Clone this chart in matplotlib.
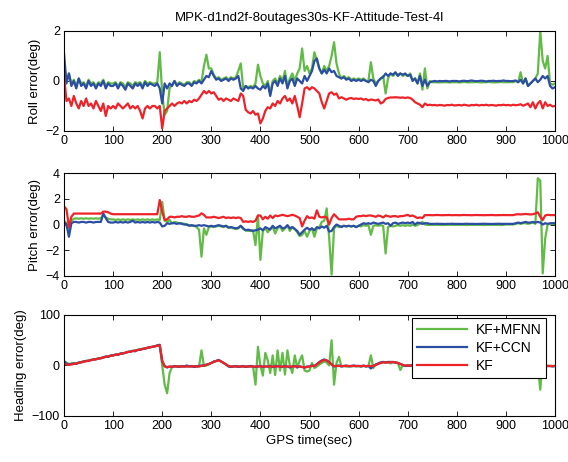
import numpy as np
import matplotlib
matplotlib.use("Agg")
import matplotlib.pyplot as plt

plt.rcParams['font.family'] = ['Liberation Sans', 'DejaVu Sans']

# time axis (sec), 5 s step
t = np.arange(0, 1001, 5)

# ---------------- Roll error (deg) ----------------
roll_kf = [0.2,-0.8,-0.7,-1.0,-0.6,-0.9,-1.1,-0.8,-1.0,-0.7,-1.0,-0.9,-1.1,-0.8,-1.0,-1.2,-0.9,-1.4,-1.0,-1.1,
           -1.0,-1.1,-0.9,-1.0,-1.1,-1.0,-0.9,-1.1,-1.0,-1.1,-1.0,-1.2,-1.5,-1.1,-1.0,-1.1,-1.0,-1.0,-1.1,-1.0,
           -1.9,-1.2,-1.1,-1.0,-0.9,-1.0,-0.9,-0.85,-0.9,-0.8,-0.9,-0.8,-0.85,-0.75,-0.8,-0.7,-0.55,-0.4,-0.5,-0.4,
           -0.5,-0.45,-0.6,-0.75,-0.7,-0.8,-0.7,-0.75,-0.8,-0.7,-0.75,-0.8,-0.5,-0.6,-1.15,-1.25,-1.3,-1.2,-1.35,-1.3,
           -1.7,-1.5,-1.2,-1.05,-1.1,-0.9,-1.0,-0.8,-0.9,-0.7,-0.6,-0.8,-0.7,-0.9,-0.6,-1.0,-1.45,-0.9,-0.3,-0.25,
           -0.35,-0.25,-0.3,-0.4,-0.5,-0.85,-1.1,-0.8,-0.5,-0.45,-0.55,-0.5,-0.7,-0.65,-0.7,-0.75,-0.7,-0.68,-0.72,-0.7,
           -0.72,-0.7,-0.75,-0.72,-0.78,-0.74,-0.76,-0.78,-0.74,-0.9,-0.85,-0.72,-0.68,-0.66,-0.66,-0.65,-0.66,-0.67,-0.66,-0.68,
           -0.66,-0.68,-0.75,-0.85,-0.9,-0.95,-1.05,-0.9,-0.97,-0.95,-0.97,-0.96,-0.98,-0.96,-0.97,-0.99,-0.96,-0.97,-0.95,-0.98,
           -0.97,-0.96,-0.98,-0.95,-0.97,-0.99,-0.96,-0.97,-0.95,-0.98,-0.96,-0.97,-0.95,-0.98,-0.96,-0.97,-0.99,-0.96,-0.97,-0.95,
           -0.97,-0.96,-0.98,-0.95,-0.97,-0.96,-0.93,-0.99,-0.95,-0.9,-1.05,-0.85,-1.1,-0.9,-0.8,-1.1,-0.85,-1.0,-0.95,-1.02,
           -1.0]
roll_ccn = [1.1,-0.1,0.3,-0.2,0.0,-0.3,0.1,-0.2,-0.1,-0.3,0.0,-0.2,-0.1,-0.3,-0.1,-0.2,0.0,-0.3,-0.1,-0.2,
            -0.2,-0.1,-0.3,-0.1,-0.2,-0.35,-0.1,-0.2,-0.3,-0.1,-0.2,-0.1,-0.3,-0.05,-0.2,-0.1,-0.15,-0.2,-0.1,-0.3,
            -0.9,-0.1,-0.3,-0.1,-0.2,0.0,-0.2,-0.1,-0.15,-0.2,-0.1,-0.1,-0.2,-0.05,-0.1,0.0,-0.1,0.05,0.2,0.15,
            0.4,0.2,0.05,0.1,0.0,0.05,0.1,0.0,0.1,0.05,0.1,0.2,-0.3,-0.4,-0.2,-0.3,-0.25,-0.3,-0.2,-0.3,
            -0.35,-0.2,-0.3,-0.1,-0.6,-0.1,0.0,-0.2,0.1,-0.1,0.2,-0.3,0.0,0.1,-0.2,0.1,0.0,-0.1,0.2,0.0,
            0.2,0.4,0.8,0.9,0.5,0.3,0.45,0.3,0.5,0.35,0.4,0.2,0.15,0.1,0.15,0.05,0.1,0.0,0.05,0.0,
            0.05,0.0,0.05,0.0,-0.05,0.05,0.0,-0.2,0.0,0.1,0.15,0.3,0.2,0.3,0.25,0.35,0.2,0.3,0.25,0.3,
            0.2,0.25,0.0,0.1,-0.1,0.2,-0.2,0.05,-0.2,-0.05,-0.02,0.0,-0.02,0.0,-0.01,0.0,0.0,-0.02,0.0,0.0,
            0.0,-0.02,0.0,0.01,-0.01,0.0,0.02,0.0,-0.01,0.0,0.01,0.0,-0.02,0.0,0.0,0.01,-0.01,0.0,0.0,0.02,
            0.0,0.0,-0.01,0.0,0.02,-0.05,0.05,-0.1,0.1,-0.2,-0.1,0.0,0.1,-0.05,0.05,0.2,0.1,0.2,-0.2,-0.3,
            -0.25]
roll_mfnn = [0.7,0.0,0.3,-0.1,0.05,-0.2,0.1,-0.1,-0.05,-0.2,0.05,-0.1,-0.05,-0.2,-0.05,-0.1,0.05,-0.2,-0.05,-0.1,
             -0.1,-0.05,-0.2,-0.05,-0.1,-0.25,-0.05,-0.1,-0.2,-0.05,-0.1,-0.05,-0.2,0.0,-0.1,-0.05,-0.1,-0.1,-0.05,1.15,
             -0.5,-1.35,-1.2,-0.3,-0.15,0.0,-0.15,-0.05,-0.1,-0.15,-0.05,-0.05,-0.15,0.0,-0.05,0.05,-0.05,0.6,1.05,0.5,
             0.5,0.25,0.1,0.15,0.05,0.1,0.15,0.05,0.15,0.1,0.15,0.4,0.7,-0.3,-0.2,-0.25,-0.2,-0.25,-0.1,0.65,
             0.2,-0.1,-0.2,0.0,-0.5,0.0,0.1,-0.1,0.2,0.0,0.4,-0.2,0.1,0.3,0.0,0.3,0.5,1.3,0.4,0.6,
             0.3,0.5,1.15,0.8,0.5,0.3,0.6,0.4,0.6,1.0,1.55,0.7,0.3,0.1,0.2,0.1,0.15,0.05,0.1,0.05,
             0.1,0.05,0.1,0.0,0.0,0.75,0.1,-0.1,0.0,0.1,0.2,-0.5,0.1,0.3,0.2,0.3,0.25,0.3,0.2,0.25,
             0.2,0.3,0.05,0.1,-0.1,0.3,-0.35,0.5,-0.3,0.0,-0.05,-0.05,-0.05,-0.06,-0.05,-0.05,-0.05,-0.06,-0.05,-0.05,
             -0.05,-0.06,-0.05,-0.04,-0.05,-0.06,-0.05,-0.05,-0.04,-0.05,-0.06,-0.05,-0.05,-0.04,-0.05,-0.06,-0.05,-0.05,-0.04,-0.05,
             -0.05,-0.05,-0.04,-0.05,0.0,-0.05,0.35,-0.1,0.1,-0.2,-0.1,0.0,0.1,0.3,2.0,0.8,0.5,1.0,-0.1,-0.15,
             -0.1]

# ---------------- Pitch error (deg) ----------------
pitch_kf = [1.4,1.2,-0.2,0.6,0.85,0.85,0.85,0.85,0.85,0.85,0.85,0.85,0.85,0.85,0.85,0.85,1.0,1.0,0.95,0.85,
            0.8,0.8,0.8,0.8,0.8,0.8,0.8,0.8,0.8,0.8,0.8,0.8,0.8,0.8,0.8,0.8,0.8,0.8,0.8,1.9,
            1.0,0.35,0.4,0.6,0.6,0.55,0.6,0.6,0.65,0.6,0.6,0.65,0.6,0.6,0.65,0.7,0.87,0.75,0.55,0.55,
            0.55,0.6,0.55,0.5,0.55,0.6,0.5,0.55,0.5,0.55,0.5,0.55,0.5,0.2,0.25,0.2,0.25,0.2,0.3,0.7,
            0.7,0.4,0.6,0.45,0.7,0.5,0.7,0.65,0.7,0.75,0.7,0.65,0.7,0.75,0.7,0.6,0.5,-0.15,0.3,0.65,
            0.5,0.55,0.45,1.1,0.6,0.55,0.6,0.55,0.0,0.5,0.8,0.6,0.4,0.4,0.4,0.4,0.45,0.4,0.4,0.6,
            0.65,0.65,0.7,0.65,0.7,0.7,0.65,0.6,0.7,0.65,0.55,0.7,0.65,0.6,0.65,0.65,0.6,0.65,0.65,0.7,
            0.75,0.65,0.7,0.6,0.5,0.55,0.5,0.73,0.73,0.73,0.72,0.73,0.74,0.73,0.72,0.73,0.73,0.74,0.72,0.73,
            0.73,0.72,0.73,0.74,0.73,0.73,0.72,0.73,0.74,0.73,0.73,0.72,0.73,0.73,0.74,0.73,0.72,0.73,0.73,0.74,
            0.73,0.73,0.73,0.73,0.78,0.8,0.78,0.8,0.82,0.8,0.78,0.8,0.85,0.95,0.6,0.35,0.7,0.75,0.73,0.73,
            0.73]
pitch_ccn = [0.2,0.0,-0.95,0.1,0.2,0.2,0.15,0.2,0.2,0.15,0.2,0.2,0.15,0.2,0.2,0.2,0.85,0.5,0.2,0.15,
             0.15,0.2,0.15,0.2,0.15,0.2,0.15,0.2,0.3,0.15,0.2,0.15,0.2,0.15,0.2,0.15,0.2,0.15,0.2,0.15,
             -0.15,-0.1,0.1,0.05,0.1,0.1,0.05,0.1,0.05,0.0,0.0,-0.1,-0.05,-0.1,-0.1,-0.05,-0.1,-0.05,-0.1,-0.15,
             -0.1,-0.15,-0.1,-0.05,-0.1,-0.15,-0.1,-0.25,-0.2,-0.25,-0.3,-0.25,-0.1,-0.3,-0.45,-0.4,-0.45,-0.5,-0.45,-0.4,
             -0.3,-0.45,-0.2,-0.3,-0.4,-0.1,-0.3,-0.2,-0.1,-0.3,-0.25,-0.05,-0.3,-0.2,-0.35,-0.5,-0.8,-0.6,-0.4,-0.25,
             -0.4,-0.3,-0.45,-0.2,-0.3,-0.15,-0.25,-0.1,-0.55,-0.5,-0.2,0.0,-0.1,-0.2,-0.1,-0.15,-0.1,-0.15,-0.1,-0.2,
             -0.1,0.0,0.1,0.05,0.1,0.05,0.15,0.1,0.05,0.1,0.15,0.05,0.1,-0.1,0.1,0.15,0.05,0.1,0.15,0.1,
             0.15,0.1,0.2,0.0,0.15,0.1,0.05,0.1,0.1,0.05,0.05,0.05,0.06,0.05,0.05,0.04,0.05,0.05,0.06,0.05,
             0.05,0.05,0.04,0.05,0.06,0.05,0.05,0.05,0.04,0.05,0.05,0.06,0.05,0.05,0.04,0.05,0.05,0.06,0.05,0.05,
             0.05,0.05,0.05,0.05,0.1,0.15,0.1,0.15,0.2,0.15,0.15,0.2,0.15,0.2,0.15,0.0,0.1,0.05,0.1,0.1,
             0.1]
pitch_mfnn = [0.3,0.1,-0.5,0.3,0.45,0.48,0.45,0.48,0.45,0.48,0.45,0.48,0.45,0.48,0.45,0.5,0.7,0.55,0.45,0.4,
              0.4,0.35,0.4,0.35,0.4,0.35,0.4,0.35,0.4,0.35,0.4,0.35,0.4,0.35,0.4,0.35,0.4,0.35,0.4,0.35,
              1.75,0.3,0.2,0.35,0.1,0.2,0.15,0.1,0.1,0.05,0.0,-0.05,-0.1,-0.1,-0.2,-0.4,-2.5,-0.3,-0.8,-0.2,
              -0.15,-0.2,-0.15,-0.1,-0.15,-0.2,-0.1,-0.2,-0.25,-0.3,-0.35,-0.3,-0.1,-0.35,-0.45,-0.5,-0.5,-0.45,-1.6,0.7,
              -2.75,-0.5,-0.3,-0.6,-0.3,-0.2,-0.7,-0.3,-0.15,-0.5,-0.3,-0.1,-0.5,-0.2,-0.35,-0.6,-0.9,-0.8,-0.5,-0.95,
              -0.5,-0.3,-0.95,-0.3,-0.2,0.2,0.3,1.25,-1.0,-3.9,-0.3,-0.1,-0.2,-0.15,-0.1,-0.15,-0.1,-0.15,-0.1,-0.2,
              -0.1,-0.15,-0.05,-0.1,-0.05,-0.8,-0.1,-0.05,-0.1,-0.05,-0.1,-2.25,-0.2,-0.1,-0.15,-0.1,-0.05,-0.1,-0.05,-0.1,
              -0.05,-0.1,0.0,-0.1,-0.05,0.1,0.2,0.0,-0.03,-0.03,-0.03,-0.02,-0.03,-0.03,-0.04,-0.03,-0.03,-0.02,-0.03,-0.03,
              -0.03,-0.03,-0.02,-0.03,-0.04,-0.03,-0.03,-0.03,-0.02,-0.03,-0.03,-0.04,-0.03,-0.03,-0.02,-0.03,-0.03,-0.03,-0.04,-0.03,
              0.0,0.0,0.0,0.0,0.05,0.1,0.05,0.1,0.1,0.05,0.1,0.15,0.05,3.6,3.4,-3.8,-1.1,0.0,0.05,0.05,
              0.05]

# ---------------- Heading error (deg) ----------------
head_kf = [4,2,1,2,3,4,5,6.5,7.5,8.5,9.5,10.5,11.5,12.5,13.5,14.5,16,17,18,19,
           20,21,22,23,24,25.5,26.5,27.5,28.5,29.5,30.5,31.5,32.5,34,35,36,37,38,39,40,
           10,-2,-3,-2.5,-2,-2,-2,-2,-2,-2,-2,-2,-2,-1.5,-2,-2,-1,0,1,3,
           5,7,9,10,8,5,2,-1,-2,-2,-2,-2,-2,-2,-2,-2,-2,-2,-2,-2,
           -2,-2,-2,-2,-2,-2,-2,-2,-2,-2,-2,-2,-2,-2,-2,-2,-2,-3,-4,-3,
           -2,-1,-1,2,6,9,11,10,6,2,-1,-1,-1,-1,-1,-1,-1,-1,-1,-1,
           -1,-1,-1,-1,-1,-1,-1,1,3,5,6,6,6,6.5,6.5,6,5,3,1,0,
           0,0,-1,-1,-1,-1,-1,-1,-1,-1,-1,-1,-1,-1,-1,-1,-1,-1,-1,-1,
           -1,-1,-1,-1,-1,-1,-1,-1,-1,-1,-1,-1,-1,-1,-1,-1,-1,-1,-1,-1,
           -1,-1,-1,-1,-1,-1,-1,-1,-1,-1,-1,-1,-1,-1,-1,-1,-1,-1,-1,-1,
           -1]
head_ccn = [8,4,2,3,4,3,6,6,8,9,9,11,12,12,14,14,16,18,17,20,
            20,22,21,24,24,25,27,27,29,28,31,31,33,33,35,36,37,38,40,41,
            8,-1,-4,-2,-3,-1,-2,-3,-1,-2,0,-2,-1,-3,-2,-1,0,0,2,3,
            5,8,9,11,8,5,2,-2,-3,-2,-1,-3,-2,-1,-3,-2,-1,-2,-3,-2,
            -1,-3,-2,-2,-1,-3,-2,-1,-2,-3,-1,-2,-4,-2,-1,-3,-2,-3,-4,-2,
            -2,0,-1,3,7,10,12,10,7,2,-2,-1,0,-2,-1,0,-2,-1,0,-1,
            -1,-2,0,-2,-1,-6,-1,2,4,6,7,6,7,7,7,6,5,3,1,-1,
            0,-1,1,0,-1,0,1,-1,0,0,-1,0,1,0,-1,0,0,1,-1,0,
            0,-1,0,1,0,-1,0,0,1,-1,0,0,-1,1,0,0,-1,0,1,0,
            -1,0,1,0,-1,0,0,-1,1,0,-1,0,1,-1,0,-2,0,-1,-1,-2,
            -1]
head_mfnn = [9,5,3,4,5,4,6,7,8,9,10,11,12,13,14,15,16,17,18,19,
             20,21,22,23,24,25,27,28,29,30,31,32,33,34,35,36,37,38,39,40,
             0,-38,-55,-15,-3,-2,-2,-1,-2,-2,-2,-1,-2,-2,-1,-2,30,-1,0,2,
             5,7,9,10,8,5,2,-1,-2,-2,-2,-2,-2,-2,-2,-2,-2,-2,-38,37,
             0,-20,25,10,-15,20,-19,30,-10,25,-18,30,0,-15,20,-5,10,20,-10,-12,
             -10,5,-5,-2,2,5,8,6,0,50,-38,5,17,-2,-1,-2,-1,-2,-1,-2,
             -1,-2,-1,-2,-1,20,-5,2,4,6,7,6,7,4,7,6,5,-9,1,-1,
             0,0,-1,-1,-1,-1,-1,-1,-1,-1,-1,-1,-1,-1,-1,-1,-1,-1,-1,-1,
             -1,-1,-1,-1,-1,-1,-1,-1,-1,-1,-1,-1,-1,-1,-1,-1,-1,-1,-1,-1,
             -1,-1,-1,-1,-1,-1,-1,-1,-1,-1,-1,-1,-1,-1,-48,14,-1,-1,-1,-1,
             -1]

labels = ['KF+MFNN', 'KF+CCN', 'KF']
colors = ['#62bb46', '#2b4ea2', '#ee2229']
title = 'MPK-d1nd2f-8outages30s-KF-Attitude-Test-4l'
xticks = list(range(0, 1001, 100))

panels = [
    ([roll_mfnn, roll_ccn, roll_kf], 'Roll error(deg)', (-2, 2), [-2, 0, 2]),
    ([pitch_mfnn, pitch_ccn, pitch_kf], 'Pitch error(deg)', (-4, 4), [-4, -2, 0, 2, 4]),
    ([head_mfnn, head_ccn, head_kf], 'Heading error(deg)', (-100, 100), [-100, 0, 100]),
]
rects = [[0.1127, 0.7165, 0.8644, 0.2165],
         [0.1127, 0.4026, 0.8644, 0.2229],
         [0.1127, 0.0996, 0.8644, 0.2186]]

fig = plt.figure(figsize=(5.68, 4.62), dpi=100)
axes = []
for rect, (series, ylab, ylim, yt) in zip(rects, panels):
    ax = fig.add_axes(rect)
    for s, c, lab in zip(series, colors, labels):
        ax.plot(t, s, color=c, lw=1.6, label=lab)
    ax.set_xlim(0, 1000)
    ax.set_ylim(*ylim)
    ax.set_xticks(xticks)
    ax.set_yticks(yt)
    ax.set_ylabel(ylab, fontsize=9.5, labelpad=3)
    ax.tick_params(direction='in', top=True, right=True, length=3.5, width=0.6,
                   labelsize=9, pad=3)
    for sp in ax.spines.values():
        sp.set_linewidth(0.8)
    axes.append(ax)

axes[0].set_title(title, fontsize=9.5, pad=7)
axes[2].set_xlabel('GPS time(sec)', fontsize=9.5, labelpad=2)
leg = axes[2].legend(loc='upper right', bbox_to_anchor=(0.982, 0.972), borderaxespad=0,
                     fontsize=10, handlelength=3.6, labelspacing=0.3, handletextpad=0.6,
                     borderpad=0.35, fancybox=False, framealpha=1, edgecolor='black')
leg.get_frame().set_linewidth(0.8)

fig.savefig('out.png', dpi=100)
